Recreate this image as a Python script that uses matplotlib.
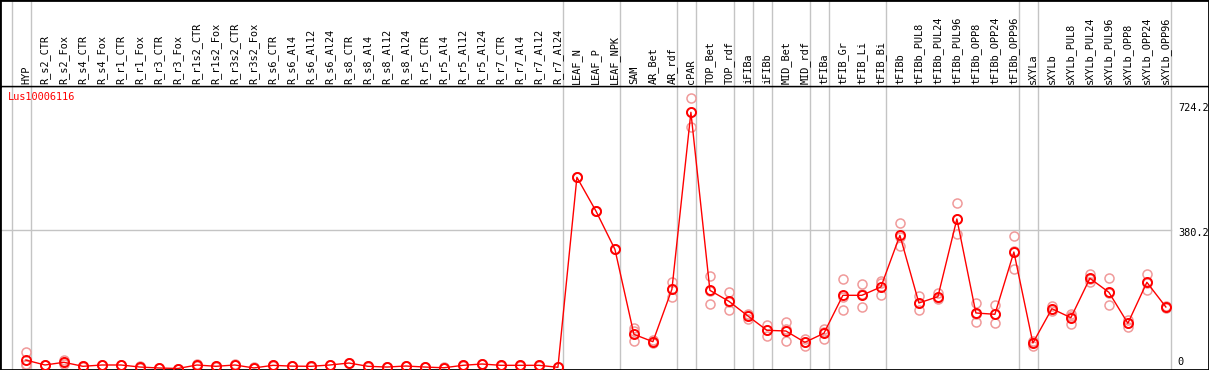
import matplotlib
matplotlib.use("Agg")
import matplotlib.pyplot as plt
import matplotlib.transforms as mtransforms

# sample names, one column each
samples = ["HYP", "R_s2_CTR", "R_s2_Fox", "R_s4_CTR", "R_s4_Fox", "R_r1_CTR", "R_r1_Fox",
           "R_r3_CTR", "R_r3_Fox", "R_r1s2_CTR", "R_r1s2_Fox", "R_r3s2_CTR", "R_r3s2_Fox",
           "R_s6_CTR", "R_s6_Al4", "R_s6_Al12", "R_s6_Al24", "R_s8_CTR", "R_s8_Al4", "R_s8_Al12",
           "R_s8_Al24", "R_r5_CTR", "R_r5_Al4", "R_r5_Al12", "R_r5_Al24", "R_r7_CTR", "R_r7_Al4",
           "R_r7_Al12", "R_r7_Al24", "LEAF_N", "LEAF_P", "LEAF_NPK", "SAM", "AR_Bet", "AR_rdf",
           "cPAR", "TOP_Bet", "TOP_rdf", "iFIBa", "iFIBb", "MID_Bet", "MID_rdf", "tFIBa",
           "tFIB_Gr", "tFIB_Li", "tFIB_Bi", "tFIBb", "tFIBb_PUL8", "tFIBb_PUL24", "tFIBb_PUL96",
           "tFIBb_OPP8", "tFIBb_OPP24", "tFIBb_OPP96", "sXYLa", "sXYLb", "sXYLb_PUL8",
           "sXYLb_PUL24", "sXYLb_PUL96", "sXYLb_OPP8", "sXYLb_OPP24", "sXYLb_OPP96"]

# mean expression (red line)
means = [23, 9.6, 17, 6, 9.6, 9.6, 4, 1.4, 0, 9.6, 6, 9.6, 1.5, 8.7, 6.5, 6, 9.6, 15, 6, 4,
         6.8, 4, 2, 8.7, 12.3, 8.7, 8.7, 8.7, 3.3,
         523.5, 431.3, 326.4, 93.6, 73.4, 216.9, 701.5, 214, 184, 143.8, 104.6, 102.7, 71.7,
         96.4, 200.4, 200.4, 223.2, 364.7, 179.4, 196.6, 409.4, 152, 148.4, 319, 69.8, 163.7,
         139.1, 247, 208.6, 123.8, 236, 168.4]

# replicates (pink circles)
rep_a = [46, 10, 22, 7, 10, 10, 8, 2, 0, 12, 7, 11, 3, 9, 7, 7, 10, 16, 7, 5, 8, 5, 3, 9,
         13, 9, 9, 9, 4,
         523.5, 431, 326, 110, 76.7, 236, 739.9, 254, 208.6, 148.4, 119, 126.5, 80.8, 107.3,
         244.8, 230.8, 239.6, 398.4, 199.3, 206.7, 452.4, 179.4, 173, 362.8, 75.3, 172, 150,
         259.6, 247, 132.8, 258.8, 171]
rep_b = [13, 9, 12, 5, 9, 9, 3, 1, 0, 8, 5, 9, 1, 8, 6, 5, 9, 14, 5, 3, 6, 3, 1, 8, 12, 8,
         8, 8, 3,
         523, 431, 326, 76, 69.8, 196.6, 662, 175.8, 161, 135.5, 89, 74.5, 62.4, 80.8, 160.2,
         167.6, 200.4, 335.4, 160.2, 189.5, 367.5, 126.5, 123.8, 271.6, 62.4, 157.4, 122.7,
         237.7, 173, 113.6, 215.8, 165.7]
rep_c = [10, 10, 17, 6, 10, 10, 1, 1, 0, 9, 6, 9, 0.5, 9, 6.5, 6, 10, 15, 6, 4, 6.5, 4, 2,
         9, 12, 9, 9, 9, 3,
         524, 432, 327, 103, 74, 218, 702, 212, 183, 147, 105, 107, 72, 101, 196, 203, 235,
         360, 179, 194, 408, 150, 148, 322, 72, 162, 145, 244, 206, 125, 233, 168]

# group separators (column index where a new group starts)
group_starts = [0, 1, 29, 32, 35, 36, 38, 39, 40, 42, 43, 46, 53, 54, 61]
gene = "Lus10006116"
ytick_vals = [0, 380.2, 724.2]
grid_vals = [380.2]

W, H = 1209, 370
HEAD = 86  # header height in px
fig = plt.figure(figsize=(W / 100, H / 100), dpi=100)

xmin, xmax = -0.616, 63.02
ymin, ymax = -4.1, 773.5
mono = "DejaVu Sans Mono"
red = "#ff0000"
pink = "#f09a9a"
grey = "#c4c4c4"

ax = fig.add_axes([0, 0, 1, (H - HEAD) / H])
axh = fig.add_axes([0, (H - HEAD) / H, 1, HEAD / H])

for a in (ax, axh):
    a.set_xlim(xmin, xmax)
    a.set_xticks([])
    a.set_yticks([])
    for s in a.spines.values():
        s.set_color("black")
        s.set_linewidth(1.0)
    a.spines["left"].set_linewidth(2.0)
    a.spines["right"].set_linewidth(2.0)
    for g in group_starts:
        a.axvline(g, color=grey, lw=1.0, zorder=1)
axh.set_ylim(0, 1)
axh.spines["top"].set_linewidth(2.0)
ax.spines["bottom"].set_linewidth(2.0)
ax.set_ylim(ymin, ymax)

xs = [i + 0.75 for i in range(len(samples))]

# header labels
for x, name in zip(xs, samples):
    axh.text(x, 0.025, name, rotation=90, ha="center", va="bottom",
             fontsize=7.4, family=mono, color="black")

# gridline and value labels on the right
for v in grid_vals:
    ax.plot([xmin, group_starts[-1]], [v, v], color=grey, lw=1.0, zorder=1)
down = mtransforms.offset_copy(ax.transData, fig=fig, x=0, y=-3.5, units="dots")
up = mtransforms.offset_copy(ax.transData, fig=fig, x=0, y=6.5, units="dots")
for v in ytick_vals:
    ax.text(61.38, v, f"{v:g}", transform=down if v > 0 else up, ha="left", va="center",
            fontsize=7.4, family=mono, color="black")

# replicates
for reps in (rep_a, rep_b, rep_c):
    ax.plot(xs, reps, linestyle="none", marker="o", ms=6.5, mfc="none",
            mec=pink, mew=1.1, zorder=2)

# mean line
ax.plot(xs, means, color=red, lw=1.0, marker="o", ms=6.5, mfc="none",
        mec=red, mew=1.4, zorder=3)

fig.text(8 / W, (H - 97) / H, gene, fontsize=7.4, family=mono, color=red,
         ha="left", va="center")

fig.savefig("out.png", dpi=100)
